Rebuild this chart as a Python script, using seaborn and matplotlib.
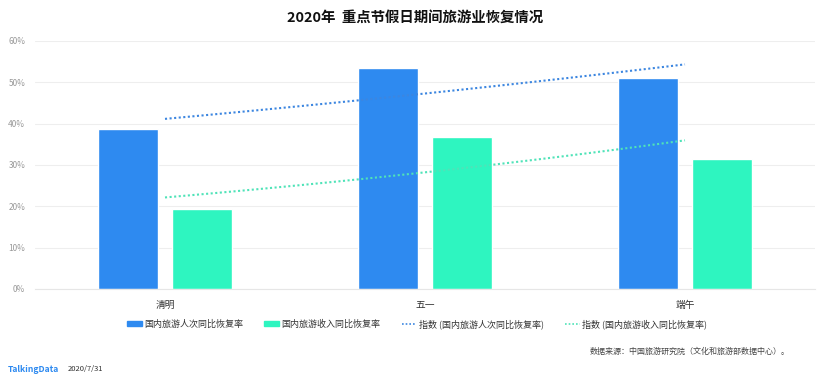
import numpy as np
import pandas as pd
import matplotlib
matplotlib.use("Agg")
import matplotlib.pyplot as plt
import seaborn as sns
from matplotlib.patches import Patch
from matplotlib.lines import Line2D

categories = ["清明", "五一", "端午"]
series_names = ["国内旅游人次同比恢复率", "国内旅游收入同比恢复率"]
visitors = [38.7, 53.5, 51.1]
revenue = [19.4, 36.8, 31.5]
trend_labels = ["指数 (国内旅游人次同比恢复率)", "指数 (国内旅游收入同比恢复率)"]
yticks = [0, 10, 20, 30, 40, 50, 60]
title = "2020年  重点节假日期间旅游业恢复情况"
source = "数据来源：中国旅游研究院（文化和旅游部数据中心）。"

colors = ["#2E8AF0", "#2EF5C0"]
trend_colors = ["#3C86E0", "#4FE3B8"]

sns.set_theme(style="white")
plt.rcParams['font.family'] = ['Noto Sans CJK SC', 'DejaVu Sans']

df = pd.DataFrame({
    "cat": categories * 2,
    "series": [series_names[0]] * 3 + [series_names[1]] * 3,
    "val": visitors + revenue,
})

fig = plt.figure(figsize=(8.3, 3.82), dpi=100)
ax = fig.add_axes([35/830, 1-289/382, 780/830, 248/382])

sns.barplot(data=df, x="cat", y="val", hue="series", palette=colors,
            width=0.57, gap=0.2, ax=ax, legend=False, saturation=1)

# exponential trendlines
xs = np.arange(len(categories))
for vals, c in zip([visitors, revenue], trend_colors):
    b, a = np.polyfit(xs, np.log(vals), 1)
    xx = np.linspace(0, len(categories) - 1, 50)
    ax.plot(xx, np.exp(a + b * xx), linestyle=(0, (1, 1.2)), color=c, lw=1.5)

ax.set_xlim(-0.5, 2.5)
ax.set_ylim(0, 60)
ax.set_yticks(yticks)
ax.set_yticklabels([f"{v}%" for v in yticks], fontsize=6, color="#999999")
ax.tick_params(axis="y", length=0, pad=7)
ax.tick_params(axis="x", length=0, pad=8, labelsize=7, labelcolor="#333333")
ax.set_xlabel("")
ax.set_ylabel("")
ax.grid(axis="y", color="#EEEEEE", lw=0.8)
ax.set_axisbelow(True)
for s in ["top", "right", "left"]:
    ax.spines[s].set_visible(False)
ax.spines["bottom"].set_color("#E6E6E6")
ax.spines["bottom"].set_linewidth(0.8)

leg_handles = [Patch(color=colors[0], label=series_names[0]),
               Patch(color=colors[1], label=series_names[1]),
               Line2D([0], [0], color=trend_colors[0], linestyle=(0, (1, 1.2)), lw=1.2, label=trend_labels[0]),
               Line2D([0], [0], color=trend_colors[1], linestyle=(0, (1, 1.2)), lw=1.2, label=trend_labels[1])]
fig.legend(handles=leg_handles, loc="center", bbox_to_anchor=(417/830, 1-324/382), ncol=4,
           frameon=False, fontsize=6.5, handlelength=1.6, handleheight=0.55, columnspacing=2.4,
           handletextpad=0.25, labelcolor="#333333")

fig.text(415/830, 1-18/382, title, ha="center", va="center", fontsize=10.4, fontweight="bold", color="#111111")
fig.text(790/830, 1-351/382, source, ha="right", va="center", fontsize=5.8, color="#444444")
fig.text(8/830, 1-369/382, "TalkingData", ha="left", va="center", fontsize=6.2, fontweight="bold", color="#2E8AF0")
fig.text(68/830, 1-369/382, "2020/7/31", ha="left", va="center", fontsize=5.5, color="#333333")

fig.savefig("out.png", dpi=100)
